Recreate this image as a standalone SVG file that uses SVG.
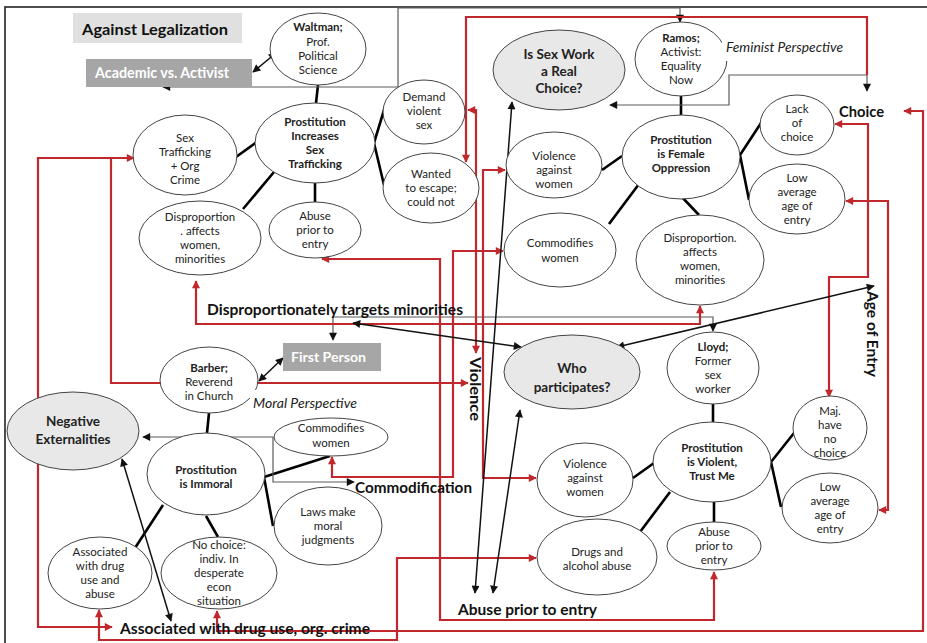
<svg xmlns="http://www.w3.org/2000/svg" width="927" height="643" viewBox="0 0 927 643">
<defs>
<style>
text{font-family:Lato,'Liberation Sans',sans-serif;fill:#222}
.t{font-size:11.5px;text-anchor:middle}
.b{font-weight:bold}
.lbl{font-weight:bold;font-size:16px;fill:#111}
.it{font-style:italic;font-size:14px;fill:#222}
.node ellipse{fill:#fff;stroke:#444;stroke-width:1}
.node.gr ellipse{fill:#e8e8e8}
.tree{stroke:#000;stroke-width:2.6;fill:none;stroke-linejoin:round}
.red{stroke:#c0282d;stroke-width:2.2;fill:none}
.gray{stroke:#5a5a5a;stroke-width:1.2;fill:none}
.arr{stroke:#111;stroke-width:1.5;fill:none}
.redA{marker-start:url(#rA);marker-end:url(#rA)}
.redE{marker-end:url(#rA)}
.blk{marker-start:url(#bA);marker-end:url(#bA)}
</style>
<marker id="rA" viewBox="0 0 10 10" refX="9" refY="5" markerWidth="9" markerHeight="8" markerUnits="userSpaceOnUse" orient="auto-start-reverse"><path d="M0,0 L10,5 L0,10 z" fill="#c0282d"/></marker>
<marker id="bA" viewBox="0 0 10 10" refX="9" refY="5" markerWidth="9" markerHeight="8" markerUnits="userSpaceOnUse" orient="auto-start-reverse"><path d="M0,0 L10,5 L0,10 z" fill="#111"/></marker>
</defs>
<rect x="0" y="0" width="927" height="643" fill="#fff"/>
<rect x="5" y="7" width="940" height="660" fill="none" stroke="#222" stroke-width="1.6"/>

<g id="connectors">
<!-- tree links -->
<path class="tree" d="M318,85 L316,103"/>
<path class="tree" d="M236,157 L257,142"/>
<path class="tree" d="M243,209 L274,172"/>
<path class="tree" d="M315,183 L315,203"/>
<path class="tree" d="M384,110 L374,143 L384,185"/>
<path class="tree" d="M681,96 L681,115"/>
<path class="tree" d="M602,170 L622,156"/>
<path class="tree" d="M609,224 L639,184"/>
<path class="tree" d="M680,195 L699,215"/>
<path class="tree" d="M761,123 L740,155 L749,200"/>
<path class="tree" d="M713,404 L713,422"/>
<path class="tree" d="M633,478 L654,463"/>
<path class="tree" d="M640,532 L670,492"/>
<path class="tree" d="M714,502 L714,522"/>
<path class="tree" d="M794,433 L771,462 L781,507"/>
<path class="tree" d="M209,413 L207,433"/>
<path class="tree" d="M135,548 L163,505"/>
<path class="tree" d="M206,516 L218,537"/>
<path class="tree" d="M330,456 L264,477 L273,526"/>
<!-- gray connectors -->
<path class="gray blk" d="M163,87 L398,87 L398,8 L680,8 L680,22"/>
<path class="gray blk" d="M610,105 L729,105 L729,75 L867,75 L867,91"/>
<path class="gray blk" d="M333,340 L333,317 L713,317 L713,331"/>
<path class="gray blk" d="M143,437 L273,437 L273,482 L354,482"/>
<!-- red connectors -->
<path class="red" d="M867,75 L867,17 L466,17 L466,162" marker-end="url(#rA)"/>
<path class="red redA" d="M134,158 L38,158 L38,627 L112,627"/>
<path class="red redE" d="M111,158 L111,383 L468,383"/>
<path class="red redA" d="M322,259 L440,259 L440,620 L714,620 L714,572"/>
<path class="red redA" d="M332,457 L332,477 L453,477 L453,251 L503,251"/>
<path class="red redA" d="M468,110 L476,110 L476,353"/>
<path class="red redA" d="M505,170 L483,170 L483,478 L536,478"/>
<path class="red redA" d="M536,558 L397,558 L397,640 L99,640 L99,610"/>
<path class="red redA" d="M904,111 L923,111 L923,631 L217,631 L217,611"/>
<path class="red redA" d="M835,124 L868,124 L868,277 L829,277 L829,397"/>
<path class="red redA" d="M846,201 L888,201 L888,510 L879,510"/>
<path class="red redA" d="M196,281 L196,324 L700,324 L700,306"/>
<!-- black arrows -->
<path class="arr blk" d="M253,72 L276,53"/>
<path class="arr blk" d="M259,381 L283,358"/>
<path class="arr blk" d="M353,323 L521,347"/>
<path class="arr blk" d="M617,347 L874,286"/>
<path class="arr blk" d="M512,102 L475,593"/>
<path class="arr blk" d="M520,410 L493,593"/>
<path class="arr blk" d="M122,459 L171,621"/>
</g>

<g id="title"><rect x="73" y="13" width="169" height="30" fill="#e0e0e0"/><text class="lbl" x="82" y="35" textLength="146" lengthAdjust="spacingAndGlyphs">Against Legalization</text></g>
<g id="academic"><rect x="86" y="59" width="166" height="28" fill="#a6a6a6"/><text class="b" x="95" y="78" font-size="15" fill="#fff" style="fill:#fff" textLength="134" lengthAdjust="spacingAndGlyphs">Academic vs. Activist</text></g>
<g id="firstperson"><rect x="283" y="343" width="98" height="28" fill="#a6a6a6"/><text class="b" x="291" y="362" font-size="14" style="fill:#fff" textLength="75" lengthAdjust="spacingAndGlyphs">First Person</text></g>

<g id="waltman" class="node"><ellipse cx="318" cy="49" rx="48" ry="36"/><text class="t"><tspan class="b" x="318" y="31">Waltman;</tspan><tspan x="318" y="46">Prof.</tspan><tspan x="318" y="60">Political</tspan><tspan x="318" y="74">Science</tspan></text></g>
<g id="pist" class="node"><ellipse cx="315" cy="143" rx="60" ry="40"/><text class="t b"><tspan x="315" y="126">Prostitution</tspan><tspan x="315" y="140">Increases</tspan><tspan x="315" y="154">Sex</tspan><tspan x="315" y="168">Trafficking</tspan></text></g>
<g id="sextraf" class="node"><ellipse cx="185" cy="155" rx="52" ry="40"/><text class="t"><tspan x="185" y="142">Sex</tspan><tspan x="185" y="156">Trafficking</tspan><tspan x="185" y="170">+ Org</tspan><tspan x="185" y="184">Crime</tspan></text></g>
<g id="disprL" class="node"><ellipse cx="200" cy="238" rx="61" ry="37"/><text class="t"><tspan x="200" y="221">Disproportion</tspan><tspan x="200" y="235">. affects</tspan><tspan x="200" y="249">women,</tspan><tspan x="200" y="263">minorities</tspan></text></g>
<g id="abuseL" class="node"><ellipse cx="315" cy="230" rx="46" ry="28"/><text class="t"><tspan x="315" y="220">Abuse</tspan><tspan x="315" y="234">prior to</tspan><tspan x="315" y="248">entry</tspan></text></g>
<g id="demand" class="node"><ellipse cx="424" cy="112" rx="41" ry="32"/><text class="t"><tspan x="424" y="101">Demand</tspan><tspan x="424" y="115">violent</tspan><tspan x="424" y="129">sex</tspan></text></g>
<g id="wanted" class="node"><ellipse cx="431" cy="188" rx="48" ry="35"/><text class="t"><tspan x="431" y="178">Wanted</tspan><tspan x="431" y="192">to escape;</tspan><tspan x="431" y="206">could not</tspan></text></g>
<g id="issexwork" class="node gr"><ellipse cx="559" cy="70" rx="66" ry="40"/><text class="t b" style="font-size:13.5px"><tspan x="559" y="59">Is Sex Work</tspan><tspan x="559" y="76">a Real</tspan><tspan x="559" y="93">Choice?</tspan></text></g>
<g id="ramos" class="node"><ellipse cx="681" cy="59" rx="46" ry="37"/><rect x="722" y="32" width="124" height="29" fill="#fff"/><text class="t"><tspan class="b" x="681" y="42">Ramos;</tspan><tspan x="681" y="56">Activist:</tspan><tspan x="681" y="70">Equality</tspan><tspan x="681" y="84">Now</tspan></text><text class="it" x="726" y="52" textLength="117" lengthAdjust="spacingAndGlyphs">Feminist Perspective</text></g>
<g id="pfo" class="node"><ellipse cx="681" cy="157" rx="59" ry="42"/><text class="t b"><tspan x="681" y="144">Prostitution</tspan><tspan x="681" y="158">is Female</tspan><tspan x="681" y="172">Oppression</tspan></text></g>
<g id="vaw1" class="node"><ellipse cx="554" cy="165" rx="48" ry="33"/><text class="t"><tspan x="554" y="160">Violence</tspan><tspan x="554" y="174">against</tspan><tspan x="554" y="188">women</tspan></text></g>
<g id="commod1" class="node"><ellipse cx="560" cy="250" rx="56" ry="37"/><text class="t"><tspan x="560" y="247">Commodifies</tspan><tspan x="560" y="262">women</tspan></text></g>
<g id="lack" class="node"><ellipse cx="797" cy="125" rx="37" ry="30"/><text class="t"><tspan x="797" y="113">Lack</tspan><tspan x="797" y="127">of</tspan><tspan x="797" y="141">choice</tspan></text></g>
<g id="lowavg1" class="node"><ellipse cx="797" cy="199" rx="48" ry="35"/><text class="t"><tspan x="797" y="182">Low</tspan><tspan x="797" y="196">average</tspan><tspan x="797" y="210">age of</tspan><tspan x="797" y="224">entry</tspan></text></g>
<g id="disprR" class="node"><ellipse cx="700" cy="260" rx="64" ry="45"/><text class="t"><tspan x="700" y="242">Disproportion.</tspan><tspan x="700" y="256">affects</tspan><tspan x="700" y="270">women,</tspan><tspan x="700" y="284">minorities</tspan></text></g>
<g id="who" class="node gr"><ellipse cx="572" cy="372" rx="68" ry="37"/><text class="t b" style="font-size:13.5px"><tspan x="572" y="373">Who</tspan><tspan x="572" y="392">participates?</tspan></text></g>
<g id="lloyd" class="node"><ellipse cx="713" cy="368" rx="46" ry="36"/><text class="t"><tspan class="b" x="713" y="351">Lloyd;</tspan><tspan x="713" y="365">Former</tspan><tspan x="713" y="379">sex</tspan><tspan x="713" y="393">worker</tspan></text></g>
<g id="pivtm" class="node"><ellipse cx="712" cy="462" rx="59" ry="40"/><text class="t b"><tspan x="712" y="452">Prostitution</tspan><tspan x="712" y="466">is Violent,</tspan><tspan x="712" y="480">Trust Me</tspan></text></g>
<g id="maj" class="node"><ellipse cx="830" cy="428" rx="37" ry="32"/><text class="t"><tspan x="830" y="415">Maj.</tspan><tspan x="830" y="429">have</tspan><tspan x="830" y="443">no</tspan><tspan x="830" y="457">choice</tspan></text></g>
<g id="lowavg2" class="node"><ellipse cx="830" cy="508" rx="48" ry="35"/><text class="t"><tspan x="830" y="491">Low</tspan><tspan x="830" y="505">average</tspan><tspan x="830" y="519">age of</tspan><tspan x="830" y="533">entry</tspan></text></g>
<g id="vaw2" class="node"><ellipse cx="585" cy="480" rx="48" ry="37"/><text class="t"><tspan x="585" y="468">Violence</tspan><tspan x="585" y="482">against</tspan><tspan x="585" y="496">women</tspan></text></g>
<g id="drugs" class="node"><ellipse cx="597" cy="557" rx="60" ry="38"/><text class="t"><tspan x="597" y="556">Drugs and</tspan><tspan x="597" y="570">alcohol abuse</tspan></text></g>
<g id="abuseR" class="node"><ellipse cx="714" cy="546" rx="47" ry="24"/><text class="t"><tspan x="714" y="536">Abuse</tspan><tspan x="714" y="550">prior to</tspan><tspan x="714" y="564">entry</tspan></text></g>
<g id="barber" class="node"><ellipse cx="209" cy="380" rx="49" ry="33"/><rect x="250" y="390" width="110" height="26" fill="#fff"/><text class="t"><tspan class="b" x="209" y="372">Barber;</tspan><tspan x="209" y="386">Reverend</tspan><tspan x="209" y="400">in Church</tspan></text><text class="it" x="253" y="408" textLength="104" lengthAdjust="spacingAndGlyphs">Moral Perspective</text></g>
<g id="negext" class="node gr"><ellipse cx="73" cy="431" rx="66" ry="39"/><text class="t b" style="font-size:13.5px"><tspan x="73" y="426">Negative</tspan><tspan x="73" y="444">Externalities</tspan></text></g>
<g id="immoral" class="node"><ellipse cx="206" cy="474" rx="59" ry="41"/><text class="t b"><tspan x="206" y="474">Prostitution</tspan><tspan x="206" y="488">is Immoral</tspan></text></g>
<g id="commod2" class="node"><ellipse cx="331" cy="437" rx="57" ry="19"/><text class="t"><tspan x="331" y="432">Commodifies</tspan><tspan x="331" y="447">women</tspan></text></g>
<g id="laws" class="node"><ellipse cx="328" cy="526" rx="54" ry="39"/><text class="t"><tspan x="328" y="516">Laws make</tspan><tspan x="328" y="530">moral</tspan><tspan x="328" y="544">judgments</tspan></text></g>
<g id="assoc" class="node"><ellipse cx="100" cy="573" rx="52" ry="36"/><text class="t"><tspan x="100" y="556">Associated</tspan><tspan x="100" y="570">with drug</tspan><tspan x="100" y="584">use and</tspan><tspan x="100" y="598">abuse</tspan></text></g>
<g id="nochoice" class="node"><ellipse cx="219" cy="573" rx="58" ry="36"/><text class="t"><tspan x="219" y="549">No choice:</tspan><tspan x="219" y="563">indiv. In</tspan><tspan x="219" y="577">desperate</tspan><tspan x="219" y="591">econ</tspan><tspan x="219" y="605">situation</tspan></text></g>

<g id="labels">
<text class="lbl" x="207" y="315" font-size="15" style="font-size:15px" textLength="256" lengthAdjust="spacingAndGlyphs">Disproportionately targets minorities</text>
<text class="lbl" x="355" y="493" textLength="117" lengthAdjust="spacingAndGlyphs">Commodification</text>
<text class="lbl" x="458" y="615" textLength="139" lengthAdjust="spacingAndGlyphs">Abuse prior to entry</text>
<text class="lbl" x="120" y="634" textLength="250" lengthAdjust="spacingAndGlyphs">Associated with drug use, org. crime</text>
<text class="lbl" x="839" y="117" textLength="45" lengthAdjust="spacingAndGlyphs">Choice</text>
<text class="lbl" transform="translate(470,357) rotate(90)" textLength="64" lengthAdjust="spacingAndGlyphs">Violence</text>
<text class="lbl" transform="translate(867,291) rotate(90)" textLength="86" lengthAdjust="spacingAndGlyphs">Age of Entry</text>
</g>
</svg>
